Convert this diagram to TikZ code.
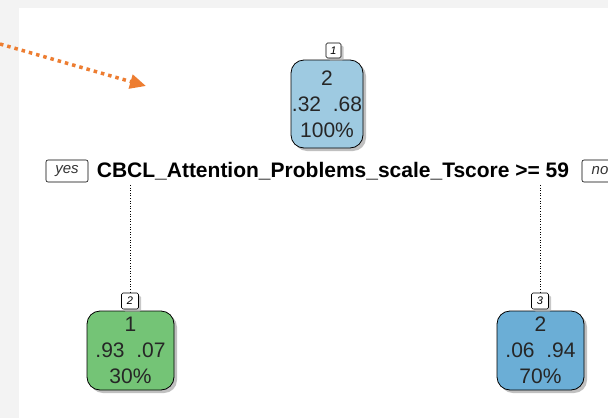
\documentclass[tikz,border=0pt]{standalone}
\usepackage{fontspec}
\setmainfont{Liberation Sans}
\usetikzlibrary{shadows,arrows.meta}
\definecolor{rootc}{HTML}{9ECAE1}
\definecolor{leafg}{HTML}{74C476}
\definecolor{leafb}{HTML}{6BAED6}
\definecolor{arrowc}{HTML}{ED7D31}
\definecolor{bgc}{HTML}{F3F3F3}
\tikzset{
  x=1pt,y=-1pt,
  treenode/.style={draw=black, line width=0.8pt, rounded corners=13pt, align=center,
    inner sep=0pt, font=\fontsize{21}{26}\selectfont, text=black!85,
    drop shadow={shadow xshift=3pt, shadow yshift=-3pt, fill=black!35, opacity=0.7}},
  numlab/.style={draw=black, line width=0.6pt, fill=white, rounded corners=1.5pt, inner sep=0pt,
    font=\itshape\fontsize{11}{11}\selectfont,
    drop shadow={shadow xshift=2.5pt, shadow yshift=-2.5pt, fill=black!30, opacity=0.7}},
  yesno/.style={draw=black, line width=0.6pt, fill=white, rounded corners=2pt, inner sep=0pt,
    font=\itshape\fontsize{15}{15}\selectfont, text=black!80},
  conn/.style={dotted, line width=0.6pt, black},
}
\begin{document}
\begin{tikzpicture}
\useasboundingbox (0,0) rectangle (608,418);
\clip (0,0) rectangle (608,418);
\fill[bgc] (0,0) rectangle (608,418);
\fill[white] (19,8) rectangle (608,418);

% orange pointer arrow
\coordinate (pa) at (0,44);
\coordinate (pb) at (146,86);
\draw[arrowc, line width=3.5pt, dash pattern=on 3.5pt off 4pt,
  -{Triangle[length=16pt,width=14pt]}] (pa) -- (pb);

% root
\node[treenode, fill=rootc, minimum width=72pt, minimum height=88pt] (n1) at (327,104)
  {2\\.32\ \ .68\\100\%};
\node[numlab, minimum width=15pt, minimum height=15pt] (l1) at (333.5,50.5) {1};

% split
\node[font=\bfseries\fontsize{21}{21}\selectfont, inner sep=0pt] (split) at (333,171)
  {CBCL\_Attention\_Problems\_scale\_Tscore >= 59};
\node[yesno, minimum width=42pt, minimum height=22pt] (yes) at (67,171) {yes};
\node[yesno, minimum width=36pt, minimum height=22pt] (no) at (600,171) {no};

% leaves
\node[treenode, fill=leafg, minimum width=87pt, minimum height=79pt] (n2) at (130.5,350.5)
  {1\\.93\ \ .07\\30\%};
\node[numlab, minimum width=17pt, minimum height=16pt] (l2) at (130,301) {2};
\node[treenode, fill=leafb, minimum width=87pt, minimum height=79pt] (n3) at (540.5,350.5)
  {2\\.06\ \ .94\\70\%};
\node[numlab, minimum width=17pt, minimum height=16pt] (l3) at (540,301) {3};

\coordinate (s2) at (130,185);
\coordinate (s3) at (540,185);
\draw[conn] (s2) -- (l2.north);
\draw[conn] (s3) -- (l3.north);
\end{tikzpicture}
\end{document}
